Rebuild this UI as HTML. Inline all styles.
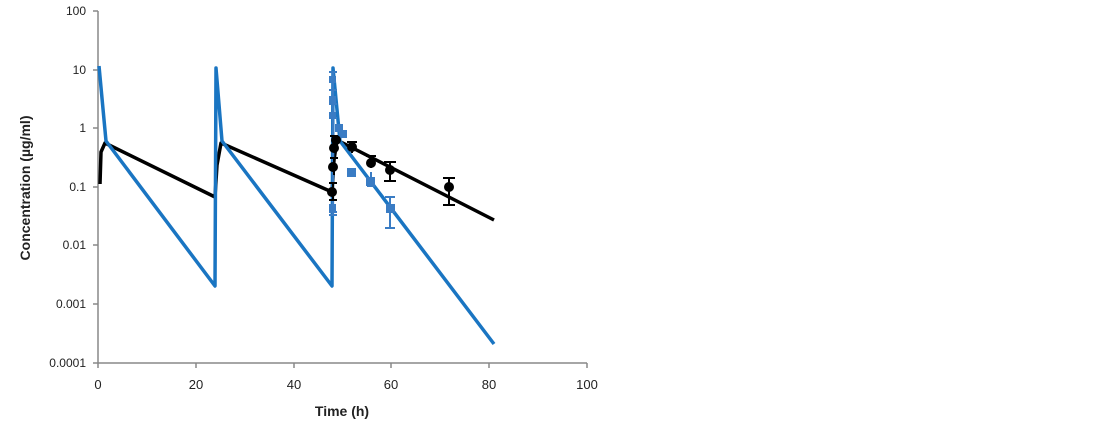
<!DOCTYPE html>
<html><head><meta charset="utf-8"><style>body{margin:0;background:#fff}svg{display:block}</style></head><body>
<svg width="1100" height="437" xmlns="http://www.w3.org/2000/svg" font-family="Liberation Sans, sans-serif">
<rect width="1100" height="437" fill="#fff"/>
<g stroke="#888" stroke-width="1.5" fill="none">
<line x1="98" y1="11" x2="98" y2="363"/>
<line x1="98" y1="363" x2="587" y2="363"/>
<path d="M93 11H98M93 70H98M93 128H98M93 187H98M93 245H98M93 304H98M93 363H98"/>
<path d="M98 363V368M196 363V368M294 363V368M391 363V368M489 363V368M587 363V368"/>
</g>
<g font-size="12" fill="#222" text-anchor="end">
<text x="86" y="15">100</text><text x="86" y="74">10</text><text x="86" y="132">1</text>
<text x="86" y="191">0.1</text><text x="86" y="249">0.01</text><text x="86" y="308">0.001</text><text x="86" y="367">0.0001</text>
</g>
<g font-size="13" fill="#222" text-anchor="middle">
<text x="98" y="389">0</text><text x="196" y="389">20</text><text x="294" y="389">40</text>
<text x="391" y="389">60</text><text x="489" y="389">80</text><text x="587" y="389">100</text>
</g>
<text x="342" y="416" font-size="14" font-weight="bold" text-anchor="middle" fill="#222">Time (h)</text>
<text transform="translate(30,188) rotate(-90)" font-size="14" font-weight="bold" text-anchor="middle" fill="#222">Concentration (µg/ml)</text>
<g fill="none" stroke-width="3.5" stroke-linejoin="round">
<path stroke="#000" d="M100 184L101 152L105 143L215 197L217 165L221 143L332 192L334 160L337 140L494 220"/>
<path stroke="#1a75c2" d="M99 66L106 141L215 286L216 68L222 141L332 286L333 68L340 141L494 344"/>
</g>
<g stroke="#3a7cc4" stroke-width="2" fill="#3a7cc4">
<path d="M333 72V215M329 72H337M329 90H337M329 104H337M329 118H337M329 200H337M329 215H337M329 212H337" fill="none"/>
<rect x="330" y="77" width="5" height="5"/><rect x="330" y="97" width="5" height="5"/><rect x="330" y="113" width="5" height="5"/>
<rect x="330" y="205" width="5" height="5"/><rect x="336" y="125" width="6" height="6"/><rect x="340" y="131" width="6" height="6"/>
<rect x="348" y="169" width="7" height="7"/><rect x="367" y="178" width="7" height="7"/><rect x="387" y="205" width="7" height="7"/>
<path d="M390 197V228M385 197H395M385 228H395" fill="none"/>
<path d="M371 172V186M367 186H375" fill="none"/>
</g>
<g stroke="#000" stroke-width="2" fill="#000">
<path d="M333 183V200M329 183H337M329 200H337M334 158V175M330 158H338M334 136V145M330 136H338M352 142V153M347 142H357M371 156V168M366 156H376M390 162V181M384 162H396M384 181H396M449 178V205M443 178H455M443 205H455" fill="none"/>
<circle cx="332" cy="192" r="4"/><circle cx="333" cy="167" r="4"/><circle cx="334" cy="148" r="4"/>
<circle cx="336" cy="140" r="4"/><circle cx="352" cy="147" r="4"/><circle cx="371" cy="163" r="4"/>
<circle cx="390" cy="170" r="4"/><circle cx="449" cy="187" r="4"/>
</g>
</svg>
</body></html>
